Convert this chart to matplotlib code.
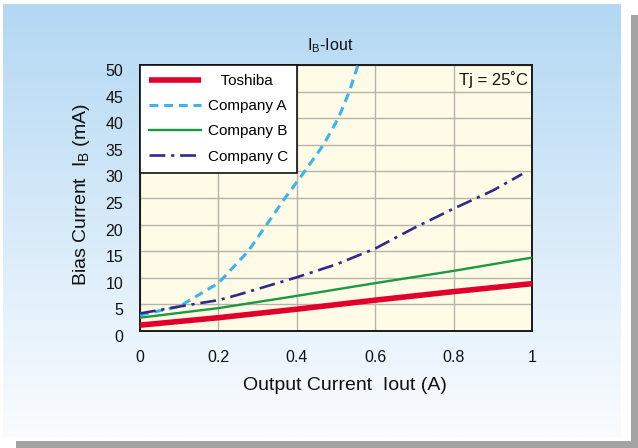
import numpy as np
import matplotlib
matplotlib.use('Agg')
import matplotlib.pyplot as plt
from matplotlib.patches import Rectangle
from matplotlib.transforms import ScaledTranslation

plt.rcParams['font.family'] = ['Liberation Sans', 'DejaVu Sans']

# Output current (A) vs bias current (mA)
toshiba_x = [0.0, 0.2, 0.4, 0.6, 0.8, 1.0]
toshiba_y = [1.1, 2.5, 4.1, 5.8, 7.4, 8.9]

comp_a_x = [0.0, 0.1, 0.2, 0.276, 0.323, 0.37, 0.42, 0.468, 0.506, 0.534, 0.556]
comp_a_y = [3.0, 4.6, 9.0, 15.0, 20.0, 25.0, 30.0, 35.0, 40.0, 45.0, 50.0]

comp_b_x = [0.0, 0.2, 0.4, 0.6, 0.8, 1.0]
comp_b_y = [2.5, 4.3, 6.6, 9.0, 11.3, 13.8]

comp_c_x = [0.0, 0.1, 0.2, 0.25, 0.3, 0.4, 0.5, 0.6, 0.7, 0.8, 0.9, 0.975]
comp_c_y = [3.3, 4.6, 5.8, 6.8, 7.9, 10.1, 12.5, 15.5, 19.4, 23.0, 26.4, 29.5]

xticks = [0, 0.2, 0.4, 0.6, 0.8, 1]
xtick_labels = ['0', '0.2', '0.4', '0.6', '0.8', '1']
yticks = list(range(0, 55, 5))

W, H = 638, 448
fig = plt.figure(figsize=(W / 100, H / 100), dpi=100)
fig.patch.set_facecolor('white')

# background card with shadow and blue gradient
bg = fig.add_axes([0, 0, 1, 1], zorder=-10)
bg.axis('off')
bg.add_patch(Rectangle((16, 15), W - 16, H - 15, color='#a4a4a4', lw=0, zorder=1))
bg.add_patch(Rectangle((0, 0), 631, 441, color='white', lw=0, zorder=2))
top = np.array([0xb3, 0xd8, 0xf3]) / 255
bot = np.array([0xfa, 0xfc, 0xff]) / 255
t = np.linspace(0, 1, 256)[:, None]
grad = (top * (1 - t) + bot * t)[:, None, :]
bg.imshow(grad, extent=(3, 621, 437, 4), aspect='auto', interpolation='bilinear', zorder=3)
bg.set_xlim(0, W)
bg.set_ylim(H, 0)

ax = fig.add_axes([140 / W, 1 - 331 / H, 392 / W, 266 / H])
ax.set_facecolor('#fffbe7')

ax.plot(toshiba_x, toshiba_y, color='#e2002a', lw=4.0, solid_capstyle='butt',
        label='   Toshiba', zorder=5)
ax.plot(comp_a_x, comp_a_y, color='#3ab5ea', lw=2.2, dashes=(2.9, 1.9),
        label='Company A', zorder=4)
ax.plot(comp_b_x, comp_b_y, color='#1a9a40', lw=1.7, label='Company B', zorder=4)
ax.plot(comp_c_x, comp_c_y, color='#302a88', lw=1.9, dashes=(6.0, 2.2, 1.2, 2.2),
        label='Company C', zorder=4)

ax.set_xlim(0, 1)
ax.set_ylim(0, 50)
ax.set_xticks(xticks)
ax.set_xticklabels(xtick_labels)
ax.set_yticks(yticks)
ax.tick_params(length=0, labelsize=11.5, colors='#111111')
ax.tick_params(axis='x', pad=14)
ax.tick_params(axis='y', pad=12)
for lab in ax.get_yticklabels():
    lab.set_transform(lab.get_transform() + ScaledTranslation(0, -5 / 100, fig.dpi_scale_trans))

ax.grid(True, color='#b5b4ac', lw=1.0)
ax.set_axisbelow(True)
for s in ax.spines.values():
    s.set_color('#1a1a1a')
    s.set_linewidth(1.4)

leg = ax.legend(loc='upper left', bbox_to_anchor=(0, 1), borderaxespad=0,
                fancybox=False, framealpha=1, edgecolor='#111111', fontsize=11,
                handlelength=3.4, handletextpad=0.45, labelspacing=0.74,
                borderpad=0.58)
leg.get_frame().set_linewidth(1.2)
leg.set_zorder(10)

ax.text(0.99, 0.947, 'Tj = 25˚C', transform=ax.transAxes, ha='right', va='center',
        fontsize=12, color='#111111')

fig.text(330 / W, 1 - 46 / H, r'I$_\mathregular{B}$-Iout', ha='center', va='center',
         fontsize=11.5, color='#111111')
fig.text(345 / W, 1 - 385 / H, 'Output Current  Iout (A)', ha='center', va='center',
         fontsize=14, color='#111111')
fig.text(81 / W, 1 - 195 / H, r'Bias Current  I$_\mathregular{B}$ (mA)', ha='center',
         va='center', rotation=90, fontsize=14, color='#111111')

fig.savefig('out.png', dpi=100)
